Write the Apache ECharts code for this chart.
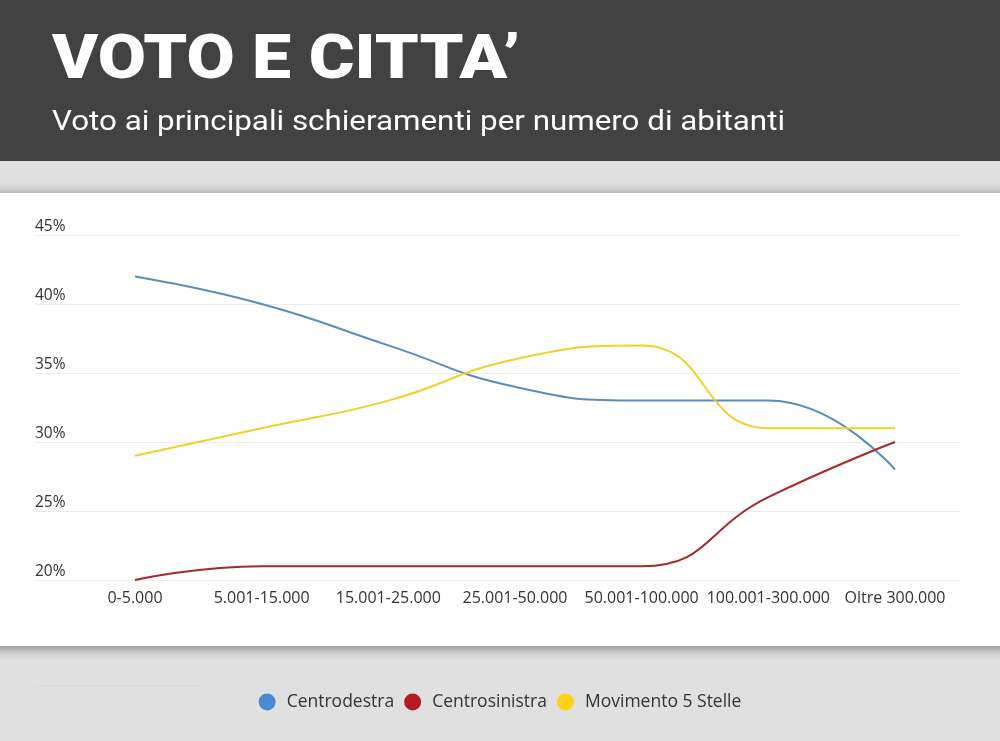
<!DOCTYPE html>
<html>
<head>
<meta charset="utf-8">
<script src="https://cdn.jsdelivr.net/npm/echarts@6/dist/echarts.min.js"></script>
<style>
html,body{margin:0;padding:0;background:#e0e0e0;}
#chart{width:1000px;height:741px;}
</style>
</head>
<body>
<div id="chart"></div>
<script>
const categories = ['0-5.000','5.001-15.000','15.001-25.000','25.001-50.000','50.001-100.000','100.001-300.000','Oltre 300.000'];
const centrodestra = [42, 40, 37, 34, 33, 33, 28];
const centrosinistra = [20, 21, 21, 21, 21, 26, 30];
const m5s = [29, 31, 33, 36, 37, 31, 31];
const seriesNames = ['Centrodestra','Centrosinistra','Movimento 5 Stelle'];
const lineColors = ['#5b8cba','#a8292b','#f0d12a'];
const legendColors = ['#4a8ad0','#b01e23','#ffd313'];
const yTicks = {min: 20, max: 45, interval: 5};
const titleText = 'VOTO E CITTA’';
const subtitleText = 'Voto ai principali schieramenti per numero di abitanti';

function fitScale(text, font, target) {
  const c = document.createElement('canvas').getContext('2d');
  c.font = font;
  const w = c.measureText(text).width;
  return w > 0 ? target / w : 1;
}
const titleFont = '900 62px Roboto';
const subFont = 'normal 28px Roboto';
const titleScale = fitScale(titleText, titleFont, 468);
const subScale = fitScale(subtitleText, subFont, 733);

const chart = echarts.init(document.getElementById('chart'));
const gridTop = 235, gridBottom = 741 - 580;
const option = {
  backgroundColor: '#e0e0e0',
  animation: false,
  graphic: [
    {type:'rect', shape:{x:-20,y:193,width:1040,height:453}, style:{fill:'#ffffff', shadowBlur:12, shadowColor:'rgba(0,0,0,0.45)', shadowOffsetY:2}, z:-9},
    {type:'rect', shape:{x:0,y:0,width:1000,height:161}, style:{fill:'#424242'}, z:-8},
    {type:'line', shape:{x1:35,y1:686,x2:200,y2:686}, style:{stroke:'#d8d8d8', lineWidth:1}, z:-7},
    {type:'text', x:52, y:31, scaleX:titleScale, z:10,
     style:{text:titleText, fill:'#ffffff', font:titleFont, textVerticalAlign:'top'}},
    {type:'text', x:52, y:109, scaleX:subScale, z:10,
     style:{text:subtitleText, fill:'#ffffff', font:subFont, textVerticalAlign:'top'}}
  ],
  legend: {
    top: 688, left: 'center', icon: 'circle', itemWidth: 17, itemHeight: 17, itemGap: 10,
    textStyle: {color:'#333333', fontFamily:'Open Sans', fontSize:17.5, padding:[0,0,0,6]},
    data: seriesNames.map((n,i)=>({name:n, itemStyle:{color:legendColors[i]}}))
  },
  grid: [
    {left: 35, right: 40, top: gridTop, bottom: gridBottom},
    {left: 135, right: 105, top: gridTop, bottom: gridBottom}
  ],
  xAxis: [
    {gridIndex:0, type:'category', data:categories, show:false},
    {gridIndex:1, type:'category', data:categories, boundaryGap:false,
     axisLine:{show:false}, axisTick:{show:false},
     axisLabel:{color:'#333333', fontFamily:'Open Sans', fontSize:16, margin:10, interval:0}}
  ],
  yAxis: [
    {gridIndex:0, type:'value', min:yTicks.min, max:yTicks.max, interval:yTicks.interval,
     axisLine:{show:false}, axisTick:{show:false},
     splitLine:{lineStyle:{color:'#ececec', width:1}},
     axisLabel:{inside:true, formatter:'{value}%', verticalAlign:'bottom', margin:0, padding:0,
       color:'#333333', fontFamily:'Open Sans', fontSize:15.5}},
    {gridIndex:1, type:'value', min:yTicks.min, max:yTicks.max, interval:yTicks.interval, show:false, splitLine:{show:false}}
  ],
  series: [centrodestra, centrosinistra, m5s].map((d,i)=>({
    name: seriesNames[i], type:'line', xAxisIndex:1, yAxisIndex:1, data:d,
    smooth:0.5, showSymbol:false, symbol:'none',
    lineStyle:{color:lineColors[i], width:2}, itemStyle:{color:legendColors[i]}
  }))
};
chart.setOption(option);
</script>
</body>
</html>
